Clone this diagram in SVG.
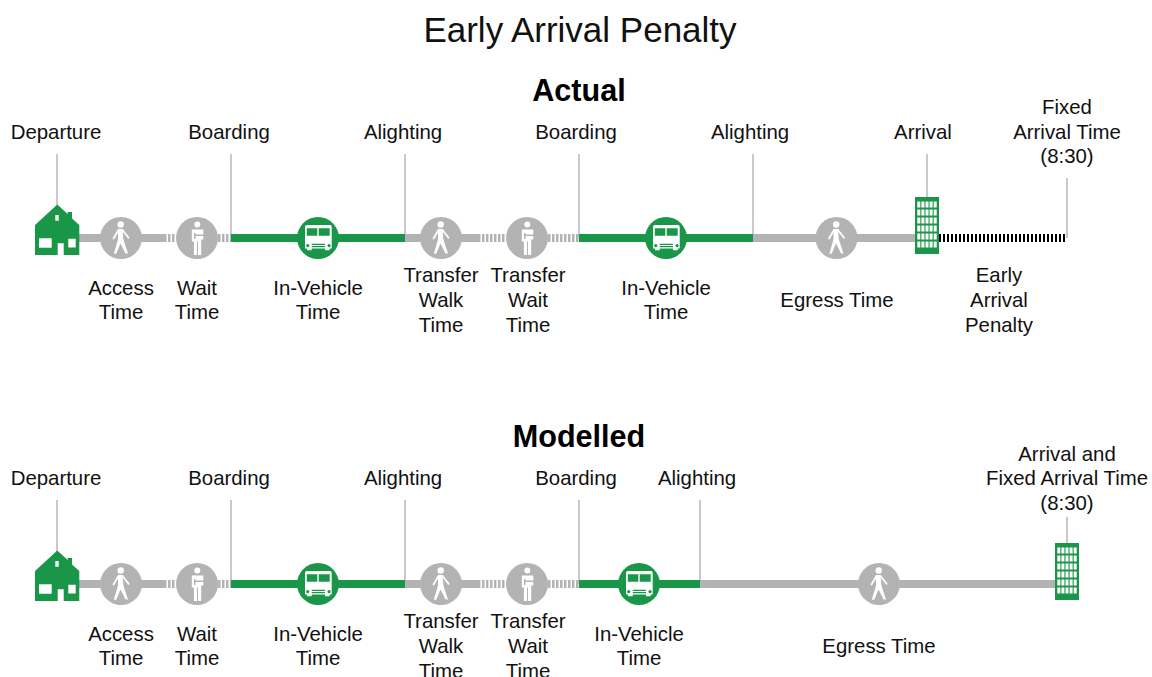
<svg xmlns="http://www.w3.org/2000/svg" width="1152" height="677" viewBox="0 0 1152 677">
<style>
text{font-family:"Liberation Sans",Arial,sans-serif;font-size:20.400px;fill:#111;text-anchor:middle}
.title{font-size:35px}
.head{font-size:30.600px;font-weight:bold;fill:#000}
.tick{stroke:#b3b3b3;stroke-width:1.4;fill:none}
.g{stroke:#b3b3b3;stroke-width:8;fill:none}
.v{stroke:#1a9648;stroke-width:8;fill:none}
.gd{stroke:#b3b3b3;stroke-width:8;fill:none;stroke-dasharray:2.500 1.500}
.kd{stroke:#000;stroke-width:8;fill:none;stroke-dasharray:2 2}
.limb{stroke:#fff;fill:none;stroke-linecap:round}
</style>
<defs>
<g id="house">
<path fill="#1a9648" fill-rule="evenodd" d="M35 225L57.300 204.500L67.700 214V212H72V218.500L79.300 225V255H35ZM55.300 215V220.700H58.700V215ZM39 238.300V247.700H51.700V238.300ZM68.300 238.800V247.500H75.700V238.800ZM57.700 243.300V255H63.700V243.300Z"/>
</g>
<g id="walk">
<circle cx="121" cy="238" r="21" fill="#b3b3b3"/>
<circle cx="120.700" cy="224.500" r="3.200" fill="#fff"/>
<path fill="#fff" d="M118 229H122.500L123.500 241H118Z"/>
<path class="limb" stroke-width="1.800" d="M118.500 230L113.500 238.500M122.500 230L128.500 237.800"/>
<path fill="#fff" d="M118 239.500L113.800 253.800H116.200L120.500 243.500L125.600 253.600H128L123.400 239.500Z"/>
</g>
<g id="wait">
<circle cx="197" cy="238" r="21" fill="#b3b3b3"/>
<circle cx="197.300" cy="224.500" r="3" fill="#fff"/>
<path fill="#fff" d="M191.800 229.500H203.300V234.500H195.500V233H194V241.500H191.800ZM195.500 236H203.300V239.500H201.200V255H198V241.500H197V255H193.900V239H195.500Z"/>
</g>
<g id="bus">
<circle cx="318" cy="238" r="21" fill="#1a9648"/>
<path fill="#fff" fill-rule="evenodd" d="M307 225H330Q331.700 225 331.700 227V248.500H329.700V250.300H325V248.500H311.700V250.300H307V248.500H305V227Q305 225 307 225ZM306.800 228.300V235.700H317.300V228.300ZM318.700 228.300V235.700H329.700V228.300ZM311.700 243.800V245H325V243.800ZM311.700 246V247.200H325V246ZM307.700 244.100A1.600 1.600 0 1 0 307.800 244.100ZM329 244.100A1.600 1.600 0 1 0 329.100 244.100Z"/>
</g>
<g id="bldg">
<rect x="915" y="197" width="24" height="57" fill="#1a9648"/>
<path stroke="#fff" stroke-width="3" stroke-dasharray="6 2" fill="none" d="M918.800 201.500V249M922.900 201.500V249M927 201.500V249M931.100 201.500V249M935.200 201.500V249"/>
</g>
</defs>

<text class="title" x="580" y="42">Early Arrival Penalty</text>
<text class="head" x="579" y="100.500">Actual</text>
<text class="head" x="579" y="446.500">Modelled</text>

<g id="connectors">
<g id="actual-lines">
<path class="tick" d="M57 154V206M231 154V238M405 154V238M579 154V238M753 154V238M927 154V198M1067 178V238"/>
<path class="g" d="M79 238H164M405 238H478M753 238H915"/>
<path class="gd" d="M164 238H176M218 238H231M478 238H506M548 238H579"/>
<path class="v" d="M231 238H405M579 238H753"/>
<path class="kd" d="M939 238H1067"/>
</g>
<g id="modelled-lines">
<path class="tick" d="M57 500V552M231 500V584M405 500V584M579 500V584M700 500V584M1067 517V545"/>
<path class="g" d="M79 584H164M405 584H478M700 584H1055"/>
<path class="gd" d="M164 584H176M218 584H231M478 584H506M548 584H579"/>
<path class="v" d="M231 584H405M579 584H700"/>
</g>
</g>

<g id="actual-departure"><use href="#house"/><text x="56" y="139">Departure</text></g>
<g id="actual-access"><use href="#walk"/><text x="121" y="295">Access</text><text x="121" y="319">Time</text></g>
<g id="actual-wait"><use href="#wait"/><text x="197" y="295">Wait</text><text x="197" y="319">Time</text></g>
<g id="actual-boarding1"><text x="229" y="139">Boarding</text></g>
<g id="actual-ivt1"><use href="#bus"/><text x="318" y="295">In-Vehicle</text><text x="318" y="319">Time</text></g>
<g id="actual-alighting1"><text x="403" y="139">Alighting</text></g>
<g id="actual-twalk"><use href="#walk" x="320"/><text x="441" y="282">Transfer</text><text x="441" y="307">Walk</text><text x="441" y="331.500">Time</text></g>
<g id="actual-twait"><use href="#wait" x="330"/><text x="528" y="282">Transfer</text><text x="528" y="307">Wait</text><text x="528" y="331.500">Time</text></g>
<g id="actual-boarding2"><text x="576" y="139">Boarding</text></g>
<g id="actual-ivt2"><use href="#bus" x="348"/><text x="666" y="295">In-Vehicle</text><text x="666" y="319">Time</text></g>
<g id="actual-alighting2"><text x="750" y="139">Alighting</text></g>
<g id="actual-egress"><use href="#walk" x="715.500"/><text x="837" y="307">Egress Time</text></g>
<g id="actual-arrival"><use href="#bldg"/><text x="923" y="139">Arrival</text></g>
<g id="actual-fixed"><text x="1067" y="114">Fixed</text><text x="1067" y="139">Arrival Time</text><text x="1067" y="163">(8:30)</text></g>
<g id="actual-penalty"><text x="999" y="282">Early</text><text x="999" y="307">Arrival</text><text x="999" y="331.500">Penalty</text></g>

<g id="modelled-departure"><use href="#house" y="346"/><text x="56" y="485">Departure</text></g>
<g id="modelled-access"><use href="#walk" y="346"/><text x="121" y="641">Access</text><text x="121" y="665">Time</text></g>
<g id="modelled-wait"><use href="#wait" y="346"/><text x="197" y="641">Wait</text><text x="197" y="665">Time</text></g>
<g id="modelled-boarding1"><text x="229" y="485">Boarding</text></g>
<g id="modelled-ivt1"><use href="#bus" y="346"/><text x="318" y="641">In-Vehicle</text><text x="318" y="665">Time</text></g>
<g id="modelled-alighting1"><text x="403" y="485">Alighting</text></g>
<g id="modelled-twalk"><use href="#walk" x="320" y="346"/><text x="441" y="628">Transfer</text><text x="441" y="653">Walk</text><text x="441" y="677.500">Time</text></g>
<g id="modelled-twait"><use href="#wait" x="330" y="346"/><text x="528" y="628">Transfer</text><text x="528" y="653">Wait</text><text x="528" y="677.500">Time</text></g>
<g id="modelled-boarding2"><text x="576" y="485">Boarding</text></g>
<g id="modelled-ivt2"><use href="#bus" x="321" y="346"/><text x="639" y="641">In-Vehicle</text><text x="639" y="665">Time</text></g>
<g id="modelled-alighting2"><text x="697" y="485">Alighting</text></g>
<g id="modelled-egress"><use href="#walk" x="758" y="346"/><text x="879" y="653">Egress Time</text></g>
<g id="modelled-arrival"><use href="#bldg" x="140" y="346"/><text x="1067" y="460.500">Arrival and</text><text x="1067" y="485">Fixed Arrival Time</text><text x="1067" y="510">(8:30)</text></g>
</svg>
